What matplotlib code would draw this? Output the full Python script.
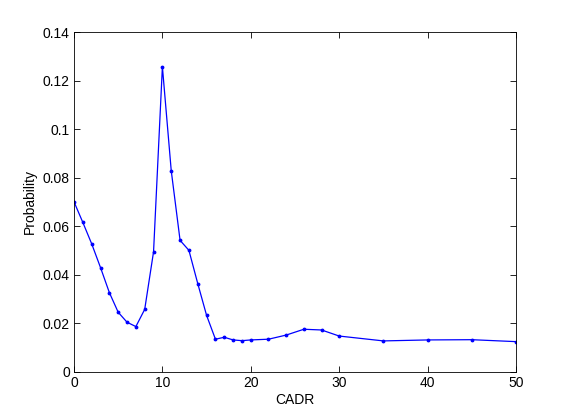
import matplotlib
matplotlib.use("Agg")
import matplotlib.pyplot as plt

plt.rcParams['font.family'] = ['Liberation Sans', 'DejaVu Sans']

cadr = [0, 1, 2, 3, 4, 5, 6, 7, 8, 9, 10, 11, 12, 13, 14, 15, 16, 17, 18, 19, 20,
        22, 24, 26, 28, 30, 35, 40, 45, 50]
prob = [0.0701, 0.0616, 0.0528, 0.0430, 0.0327, 0.0246, 0.0205, 0.0187, 0.0258,
        0.0495, 0.1257, 0.0829, 0.0542, 0.0501, 0.0364, 0.0233, 0.0135, 0.0143,
        0.0132, 0.0129, 0.0132, 0.0135, 0.0152, 0.0176, 0.0173, 0.0148, 0.0128,
        0.0132, 0.0133, 0.0125]
xticks = [0, 10, 20, 30, 40, 50]
yticks = [0, 0.02, 0.04, 0.06, 0.08, 0.1, 0.12, 0.14]
yticklabels = ['0', '0.02', '0.04', '0.06', '0.08', '0.1', '0.12', '0.14']

fig = plt.figure(figsize=(5.7, 4.2), dpi=100)
ax = fig.add_axes([0.1298, 0.1143, 0.7755, 0.8095])
ax.plot(cadr, prob, color='#0000ff', linewidth=0.9, marker='.', markersize=3.5)
ax.set_xlim(0, 50)
ax.set_ylim(0, 0.14)
ax.set_xticks(xticks)
ax.set_xticklabels([str(t) for t in xticks])
ax.set_yticks(yticks)
ax.set_yticklabels(yticklabels)
ax.tick_params(direction='in', top=True, right=True, labelsize=10, length=4, width=0.6, pad=3)
for s in ax.spines.values():
    s.set_linewidth(0.6)
ax.set_xlabel('CADR', fontsize=10, labelpad=2)
ax.set_ylabel('Probability', fontsize=10, labelpad=4)
fig.savefig('out.png', dpi=100)
